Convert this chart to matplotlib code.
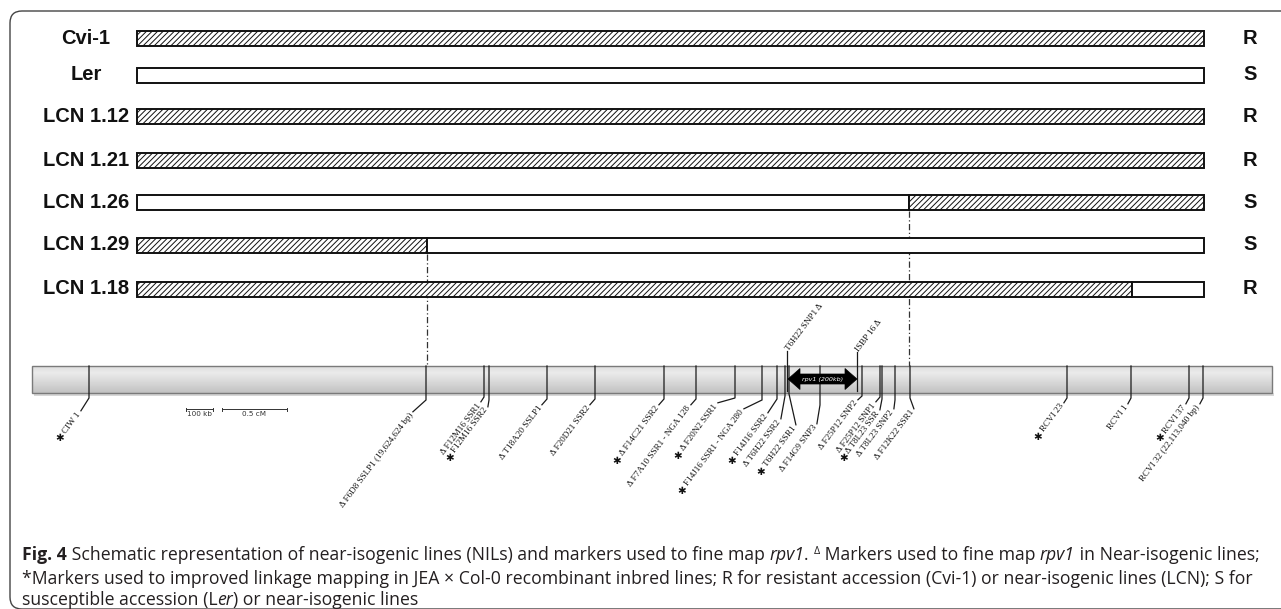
import matplotlib
matplotlib.use('Agg')
import numpy as np
import matplotlib.pyplot as plt
from matplotlib.patches import FancyBboxPatch, Polygon, Rectangle

plt.rcParams['hatch.linewidth'] = 0.7

# ---------------- data ----------------
line_names = ['Cvi-1', 'Ler', 'LCN 1.12', 'LCN 1.21', 'LCN 1.26', 'LCN 1.29', 'LCN 1.18']
phenotypes = ['R', 'S', 'R', 'R', 'S', 'S', 'R']
first_donor = ['Cvi', 'Ler', 'Cvi', 'Cvi', 'Ler', 'Cvi', 'Cvi']
breakpoints = [[], [], [], [], [909], [427], [1132]]
region_start, region_end = 137, 1204          # map units of the NIL region
chrom_start, chrom_end = 32, 1272             # map units of the chromosome bar

marker_names = ['CIW 1', 'F6D8 SSLP1 (19,624,624 bp)', 'F12M16 SSR1', 'F12M16 SSR2',
                'T18A20 SSLP1', 'F20D21 SSR2', 'F14C21 SSR2', 'F7A10 SSR1 - NGA 128',
                'F20N2 SSR1', 'F14J16 SSR1 - NGA 280', 'F14J16 SSR2', 'T6H22 SSR2',
                'T6H22 SSR1', 'F14G9 SNP3', 'F25P12 SNP2', 'F25P12 SNP1', 'T8L23 SSR',
                'T8L23 SNP2', 'F12K22 SSR1', 'RCVI 23', 'RCVI 1', 'RCVI 37',
                'RCVI 32 (22,113,040 bp)']
marker_pos = [89, 426, 484, 489, 547, 595, 664, 696, 735, 762, 777, 785, 789, 820,
              862, 880, 882, 895, 910, 1067, 1131, 1189, 1203]
marker_tags = ['*', 'D', 'D', '*', 'D', 'D', '*D', 'D', '*D', '*', '*', 'D', '*', 'D',
               'D', 'D', '*D', 'D', 'D', '*', '', '*', '']

upper_names = ['T6H22 SNP1', 'ISBP 16']
upper_pos = [787, 857]
upper_tags = ['D', 'D']

rpv1_start, rpv1_end = 788, 857
rpv1_label = 'rpv1 (200kb)'
scale_labels = ['100 kb', '0.5 cM']
scale_spans = [(186, 213), (222, 287)]

# ---------------- layout ----------------
W, H = 1281, 609
row_y = [38, 75, 116, 160, 202, 245, 289]
bar_h = 15
guide_rows = [4, 5]
chrom_top, chrom_bot = 366, 393
label_end = [(80, 412), (412, 413), (480, 403), (487, 408), (541, 406), (589, 406),
             (658, 406), (690, 406), (717, 404), (743, 410), (767, 414), (780, 420),
             (795, 426), (816, 425), (857, 401), (875, 403), (879, 411), (893, 410),
             (913, 410), (1063, 404), (1127, 405), (1185, 405), (1199, 405)]
knee_y = [398, 400, 397, 400, 399, 399, 399, 399, 398, 400, 399, 396, 394, 405,
          396, 397, 399, 400, 398, 398, 398, 398, 398]
upper_top = [351, 352]
ANG = 53
MK_FS = 6.6

fig = plt.figure(figsize=(12.81, 6.09), dpi=100)
ax = fig.add_axes([0, 0, 1, 1])
ax.set_xlim(0, W)
ax.set_ylim(H, 0)
ax.axis('off')
renderer = fig.canvas.get_renderer()

# frame
frame = FancyBboxPatch((10, 11), 1300, 598, boxstyle='round,pad=0,rounding_size=12',
                       facecolor='white', edgecolor='#444444', lw=1.0, zorder=0)
ax.add_patch(frame)

bold_sans = dict(family='Liberation Sans', fontweight='bold', fontsize=14.5, color='#111111')

# NIL bars
for i, name in enumerate(line_names):
    edges = [region_start] + breakpoints[i] + [region_end]
    donor = first_donor[i]
    for k in range(len(edges) - 1):
        ax.barh(row_y[i], edges[k + 1] - edges[k], left=edges[k], height=bar_h,
                facecolor='white', edgecolor='#111111', linewidth=1.4,
                hatch='//////' if donor == 'Cvi' else None, zorder=3)
        donor = 'Ler' if donor == 'Cvi' else 'Cvi'
    ax.text(86, row_y[i], name, ha='center', va='center', **bold_sans)
    ax.text(1250, row_y[i], phenotypes[i], ha='center', va='center', **bold_sans)

# guide lines from breakpoints
for i in guide_rows:
    for bp in breakpoints[i]:
        ax.plot([bp, bp], [row_y[i] + bar_h / 2 + 1, chrom_top], color='#333333', lw=0.9,
                ls=(0, (5, 2, 1, 2)), zorder=2)

# chromosome bar
ax.add_patch(Rectangle((chrom_start + 2, chrom_bot), chrom_end - chrom_start, 3,
                       facecolor='#bdbdbd', edgecolor='none', alpha=0.6, zorder=1))
g = np.interp(np.linspace(0, 1, 60), [0, 0.25, 1], [0.87, 0.92, 0.76])
ax.imshow(g[:, None], extent=[chrom_start, chrom_end, chrom_bot, chrom_top],
          origin='upper', aspect='auto', cmap='gray', vmin=0, vmax=1, zorder=2)
ax.add_patch(Rectangle((chrom_start, chrom_top), chrom_end - chrom_start,
                       chrom_bot - chrom_top, facecolor='none', edgecolor='#7a7a7a',
                       lw=1.0, zorder=3))
ax.set_xlim(0, W)
ax.set_ylim(H, 0)

serif = ['Liberation Serif', 'DejaVu Sans']
prefix = {'*': '', 'D': '\u0394 ', '*D': '\u0394 ', '': ''}
ca, sa = np.cos(np.radians(ANG)), np.sin(np.radians(ANG))

for name, x, tag, (ex, ey), ky in zip(marker_names, marker_pos, marker_tags, label_end, knee_y):
    ax.plot([x, x, ex + 1.5 * ca, ], [chrom_top, ky, ey - 1.5 * sa], color='#1a1a1a',
            lw=0.9, zorder=4, solid_joinstyle='miter')
    ax0, ay0 = ex - 1.0 * ca, ey + 1.0 * sa
    ax.text(ax0, ay0, prefix[tag] + name, ha='right', va='center',
            rotation=ANG, rotation_mode='anchor', family=serif, fontsize=MK_FS,
            color='#111111', zorder=5)
    if '*' in tag:
        t0 = ax.text(0, 0, prefix[tag] + name, family=serif, fontsize=MK_FS)
        L = t0.get_window_extent(renderer).width
        t0.remove()
        d = L + 7.5
        ax.text(ax0 - d * ca, ay0 + d * sa, '\u2731', ha='center', va='center',
                family='DejaVu Sans', fontsize=7.5, color='#111111', zorder=5)

for name, x, tag, ty in zip(upper_names, upper_pos, upper_tags, upper_top):
    ax.plot([x, x], [chrom_bot - 2, ty], color='#1a1a1a', lw=0.9, zorder=4)
    suffix = ' \u0394' if tag == 'D' else ''
    ax.text(x + 0.5, ty - 1, name + suffix, ha='left', va='center', rotation=ANG,
            rotation_mode='anchor', family=serif, fontsize=MK_FS, color='#111111', zorder=5)

# rpv1 arrow
yc = (chrom_top + chrom_bot) / 2 - 0.5
bh, hh, hl = 5, 10.5, 12
pts = [(rpv1_start, yc), (rpv1_start + hl, yc - hh), (rpv1_start + hl, yc - bh),
       (rpv1_end - hl, yc - bh), (rpv1_end - hl, yc - hh), (rpv1_end, yc),
       (rpv1_end - hl, yc + hh), (rpv1_end - hl, yc + bh), (rpv1_start + hl, yc + bh),
       (rpv1_start + hl, yc + hh)]
ax.add_patch(Polygon(pts, closed=True, facecolor='black', edgecolor='black', lw=0.5, zorder=6))
ax.text((rpv1_start + rpv1_end) / 2, yc, rpv1_label, ha='center', va='center',
        fontsize=4.6, style='italic', color='white', family='DejaVu Sans', zorder=7)

# scale bars
for (a, b), lab in zip(scale_spans, scale_labels):
    ax.plot([a, b], [409, 409], color='#333333', lw=0.7, zorder=4)
    ax.plot([a, a], [407.5, 410.5], color='#333333', lw=0.7, zorder=4)
    ax.plot([b, b], [407.5, 410.5], color='#333333', lw=0.7, zorder=4)
    ax.text((a + b) / 2, 414, lab, ha='center', va='center', fontsize=5.2,
            family='DejaVu Sans', color='#333333', zorder=4)

# ---------------- caption (rich text) ----------------
cap_font = 'Open Sans'


def tw(s, **kw):
    t = ax.text(0, 0, s + '|', **kw)
    w1 = t.get_window_extent(renderer).width
    t.remove()
    t = ax.text(0, 0, '|', **kw)
    w2 = t.get_window_extent(renderer).width
    t.remove()
    return w1 - w2


N, B, I, S = 'n', 'b', 'i', 's'
cap_lines = [
    [('Fig. 4', B), (' Schematic representation of near-isogenic lines (NILs) and markers used to fine map ', N),
     ('rpv1', I), ('. ', N), ('\u0394', S), (' Markers used to fine map ', N), ('rpv1', I),
     (' in Near-isogenic lines;', N)],
    [('*Markers used to improved linkage mapping in JEA \u00d7 Col-0 recombinant inbred lines; R for resistant accession (Cvi-1) or near-isogenic lines (LCN); S for', N)],
    [('susceptible accession (L', N), ('er', I), (') or near-isogenic lines', N)],
]
cap_base = [560, 584, 605]


def props(kind, size):
    d = dict(family=cap_font, fontsize=size, color='#231f20')
    if kind == B:
        d['fontweight'] = 'bold'
    elif kind == I:
        d['style'] = 'italic'
    elif kind == S:
        d['fontsize'] = size * 0.6
    return d


base_size = 12
w0 = sum(tw(s, **props(k, base_size)) for s, k in cap_lines[0])
size = base_size * (1233 / w0)

for parts, yb in zip(cap_lines, cap_base):
    x = 22
    for s, k in parts:
        p = props(k, size)
        yy = yb - 6 if k == S else yb
        ax.text(x, yy, s, ha='left', va='baseline', zorder=5, **p)
        x += tw(s, **p)

fig.savefig('out.png', dpi=100)
